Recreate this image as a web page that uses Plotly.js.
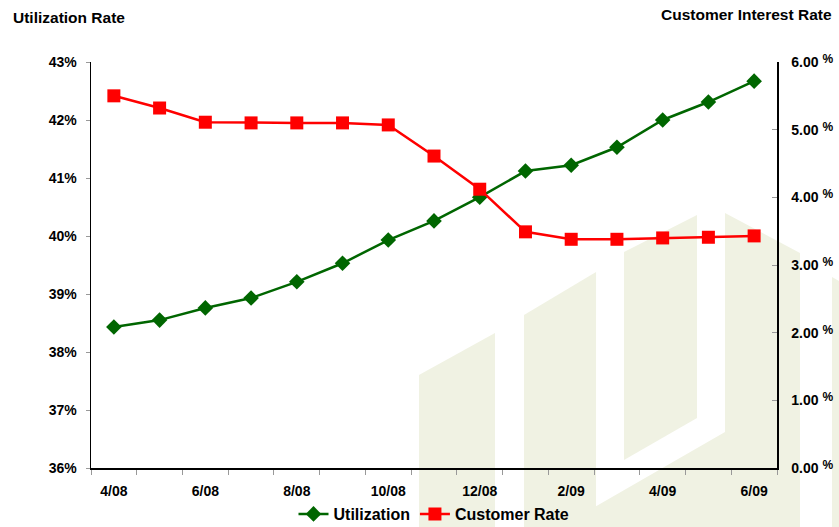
<!DOCTYPE html>
<html>
<head>
<meta charset="utf-8">
<script src="https://cdn.plot.ly/plotly-3.0.1.min.js"></script>
<style>html,body{margin:0;padding:0;background:#fff;}#chart{width:839px;height:527px;}</style>
</head>
<body>
<div id="chart"></div>
<script>
// ---- data ----
const months = ['4/08','5/08','6/08','7/08','8/08','9/08','10/08','11/08','12/08','1/09','2/09','3/09','4/09','5/09','6/09'];
const utilization = [38.43, 38.55, 38.76, 38.93, 39.21, 39.53, 39.93, 40.26, 40.67, 41.12, 41.22, 41.53, 42.00, 42.31, 42.67];
const customerRate = [5.50, 5.32, 5.11, 5.10, 5.10, 5.10, 5.07, 4.61, 4.12, 3.49, 3.38, 3.38, 3.40, 3.41, 3.43];
const leftTicks = [36, 37, 38, 39, 40, 41, 42, 43];
const rightTicks = [0, 1, 2, 3, 4, 5, 6];

// ---- layout helpers ----
const W = 839, H = 527;
const M = {l: 91, r: 62, t: 62, b: 59};
const PW = W - M.l - M.r, PH = H - M.t - M.b;
const px = x => (x - M.l) / PW;
const py = y => (H - M.b - y) / PH;
const poly = pts => 'M ' + pts.map(p => px(p[0]).toFixed(4) + ',' + py(p[1]).toFixed(4)).join(' L ') + ' Z';

const idx = months.map((m, i) => i);
const labelIdx = idx.filter(i => i % 2 === 0);
const boundaries = idx.map(i => i - 0.5).concat([months.length - 0.5]);

const beige = '#f0f2e3';
const watermark = [
  [[419,375],[495,333],[495,527],[419,527]],
  [[524,315],[596,272],[596,527],[524,527]],
  [[624,252],[697,215],[697,418],[624,460]],
  [[725,213],[800,253],[800,527],[560,527],[725,432]],
  [[832,277],[839,281],[839,527],[832,527]]
].map(p => ({type:'path', xref:'paper', yref:'paper', path: poly(p), fillcolor: beige, line:{width:0}, layer:'below'}));

const fontFam = 'Liberation Sans, Arial, sans-serif';

const traces = [
  {
    x: idx, y: utilization, name: 'Utilization', type: 'scatter', mode: 'lines+markers',
    line: {color: '#006600', width: 2.5},
    marker: {symbol: 'diamond', size: 12, color: '#006600'},
    yaxis: 'y'
  },
  {
    x: idx, y: customerRate, name: 'Customer Rate', type: 'scatter', mode: 'lines+markers',
    line: {color: '#ff0000', width: 2.5},
    marker: {symbol: 'square', size: 13, color: '#ff0000'},
    yaxis: 'y2'
  }
];

const layout = {
  width: W, height: H,
  margin: Object.assign({autoexpand: false}, M),
  paper_bgcolor: '#ffffff',
  plot_bgcolor: 'rgba(0,0,0,0)',
  font: {family: fontFam, color: '#000', size: 14},
  showlegend: true,
  legend: {
    orientation: 'h', x: 0.5, xanchor: 'center', yref: 'container', y: (H - 514) / H, yanchor: 'middle',
    font: {family: fontFam, size: 16, color: '#000', weight: 'bold'},
    bgcolor: 'rgba(0,0,0,0)', itemwidth: 30, tracegroupgap: 0
  },
  xaxis: {
    range: [-0.5, months.length - 0.5], automargin: false,
    tickmode: 'array', tickvals: labelIdx, ticktext: labelIdx.map(i => months[i]),
    ticks: '', showgrid: false, zeroline: false,
    showline: true, linecolor: '#000', linewidth: 1.5,
    tickfont: {family: fontFam, size: 14, weight: 'bold'},
    ticklabelstandoff: 10,
    minor: {tickmode: 'array', tickvals: boundaries, ticks: 'outside', ticklen: 5, tickcolor: '#999', tickwidth: 1, showgrid: false},
    fixedrange: true
  },
  yaxis: {
    range: [36, 43], automargin: false, tickmode: 'array', tickvals: leftTicks, ticktext: leftTicks.map(v => v + '%'),
    ticks: 'outside', ticklen: 4, tickcolor: '#999', tickwidth: 1,
    showgrid: false, zeroline: false,
    showline: true, linecolor: '#000', linewidth: 1.5,
    tickfont: {family: fontFam, size: 14, weight: 'bold'},
    ticklabelstandoff: 6
  },
  yaxis2: {
    range: [0, 6], automargin: false, overlaying: 'y', side: 'right',
    tickmode: 'array', tickvals: rightTicks, ticktext: rightTicks.map(v => v.toFixed(2) + ' <span style="font-size:12px;baseline-shift:4px">%</span>'),
    ticks: 'inside', ticklen: 5, tickcolor: '#999', tickwidth: 1,
    showgrid: false, zeroline: false,
    showline: true, linecolor: '#000', linewidth: 1.5,
    tickfont: {family: fontFam, size: 14, weight: 'bold'},
    ticklabelstandoff: 10
  },
  shapes: watermark,
  annotations: [
    {text: '<b>Utilization Rate</b>', xref: 'paper', yref: 'paper', x: px(11), y: py(17), xanchor: 'left', yanchor: 'middle', showarrow: false, font: {family: fontFam, size: 15.5, color: '#000'}},
    {text: '<b>Customer Interest Rate</b>', xref: 'paper', yref: 'paper', x: px(834), y: py(15), xanchor: 'right', yanchor: 'middle', showarrow: false, font: {family: fontFam, size: 15.5, color: '#000'}}
  ]
};

Plotly.newPlot('chart', traces, layout, {displayModeBar: false, staticPlot: true});
</script>
</body>
</html>
